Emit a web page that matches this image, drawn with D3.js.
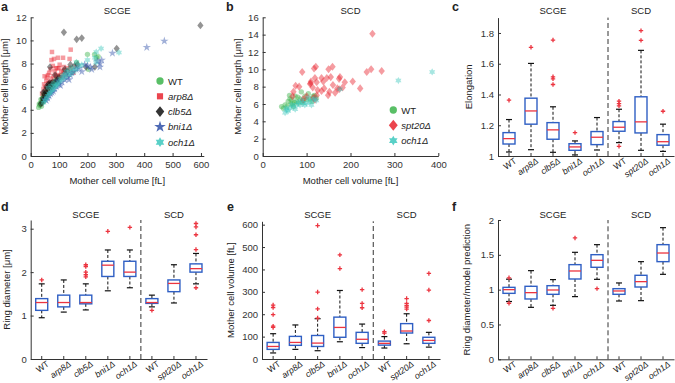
<!DOCTYPE html>
<html lang="en">
<head>
<meta charset="utf-8">
<title>Cell shape panels</title>
<script src="https://d3js.org/d3.v7.min.js"></script>
<style>
  body { margin: 0; background: #fff; font-family: Arial, "Liberation Sans", sans-serif; }
  svg text { fill: #222; font-family: Arial, "Liberation Sans", sans-serif; }
  .axis path, .axis line { stroke: #333; }
  .axis text { font-size: 9.5px; fill: #333; }
  .title { font-size: 9.5px; text-anchor: middle; }
  .letter { font-size: 12.5px; font-weight: bold; }
  .label { font-size: 9.5px; text-anchor: middle; }
  .legend { font-size: 9.5px; }
</style>
</head>
<body>
<svg id="fig" width="675" height="383"></svg>
<script>
// ---- panel a: SCGE, [volume fL, length um]
const wtA = [[28,4.2],[30,4.5],[32,4.4],[35,4.6],[36,4.9],[38,4.3],[40,4.8],[42,5.0],[44,5.3],[45,4.7],[48,5.2],[50,5.4],[52,5.0],[55,5.6],[58,5.3],[60,5.8],[62,5.5],[65,6.0],[68,5.7],[70,6.2],[75,6.0],[80,6.4],[85,6.2],[90,6.6],[95,6.4],[100,6.8],[110,7.0],[120,7.2],[140,7.6],[162,8.1],[200,8.8],[203,7.5],[225,8.8],[232,8.5],[238,8.6]];
const arp8A = [[75,9.0],[73,8.3],[82,8.4],[96,8.5],[114,8.5],[141,9.2],[137,8.4],[102,7.9],[117,7.7],[94,7.6],[61,7.0],[49,6.9],[47,6.2],[85,7.3],[108,7.3],[126,7.0],[55,6.5],[73,6.7],[65,7.2],[90,7.0],[100,7.6],[120,7.4],[130,7.6],[150,7.2],[57,6.8],[68,6.4],[80,6.9],[45,5.8],[52,6.0],[62,6.3],[140,7.6],[110,6.8],[95,6.9],[105,7.0],[88,7.6],[78,7.8],[60,5.7],[40,5.4],[70,7.5],[115,7.3]];
const clb5A = [[117,10.7],[162,10.1],[180,10.2],[195,7.7],[226,7.7],[303,9.3],[598,11.3],[68,7.7],[165,7.9],[140,7.9],[155,7.8],[40,4.6],[42,5.0],[45,4.9],[48,5.3],[50,5.6],[52,5.1],[55,5.5],[58,5.9],[60,5.4],[62,6.2],[65,5.8],[68,6.1],[70,5.9],[72,6.3],[75,6.0],[78,6.4],[80,6.1],[85,6.3],[90,6.5],[95,6.6],[100,6.8],[35,4.5],[44,5.5],[56,6.0],[66,6.3],[130,7.3],[86,7.0],[120,7.5]];
const bni1A = [[409,9.4],[471,9.95],[288,8.9],[244,7.7],[215,7.5],[160,7.5],[244,8.0],[235,8.2],[250,8.3],[200,7.8],[180,7.3],[150,7.3],[140,7.0],[130,6.8],[120,6.6],[110,6.4],[100,6.2],[90,6.0],[85,5.8],[80,5.6],[75,5.5],[70,5.4],[65,5.2],[60,5.0],[55,4.8],[50,4.9],[95,6.5],[105,6.1],[115,6.9],[125,7.1],[135,6.6],[145,7.2],[170,7.6],[190,7.9],[210,7.7]];
const och1A = [[311,8.95],[248,9.3],[231,9.0],[161,8.1],[230,8.1],[226,8.5],[180,7.9],[160,7.5],[150,7.3],[140,7.1],[130,7.0],[120,6.8],[110,6.6],[100,6.4],[95,6.2],[90,6.1],[85,6.0],[80,5.8],[75,5.7],[70,5.5],[65,5.4],[60,5.2],[55,5.0],[50,4.8],[45,4.6],[105,6.7],[115,7.0],[125,7.3],[135,7.5],[145,7.6],[170,7.8],[200,8.3],[62,5.9],[72,6.1],[82,6.3]];

// ---- panel b: SCD
const wtB = [[43,5.7],[47,5.5],[51,5.9],[55,5.7],[58,6.3],[61,7.0],[64,6.0],[66,6.5],[70,5.7],[72,6.2],[74,6.9],[77,6.3],[81,6.1],[85,6.6],[88,7.4],[90,6.2],[92,6.4],[96,6.9],[100,6.5],[104,7.2],[108,6.6],[112,6.3],[115,6.9],[118,7.0],[122,6.7],[62,6.6],[68,6.0],[80,6.8]];
const spt20B = [[250,14.1],[237,9.7],[247,10.0],[271,9.8],[90,9.7],[117,10.1],[121,10.3],[150,10.0],[159,10.3],[176,9.1],[75,8.1],[83,8.0],[109,8.4],[119,9.0],[134,9.0],[146,9.0],[155,9.1],[123,8.5],[138,8.6],[174,8.9],[187,8.5],[205,8.6],[222,7.8],[108,8.3],[114,7.9],[134,7.5],[152,7.4],[149,7.0],[123,7.0],[115,6.7],[68,6.9],[70,7.4],[92,6.5],[100,6.9],[119,6.5],[170,7.8],[182,7.9],[174,7.7],[110,8.6],[125,7.6],[140,7.8],[160,8.2],[165,7.3]];
const och1B = [[386,9.7],[309,8.7],[176,7.7],[51,5.0],[53,5.5],[62,5.5],[70,5.7],[77,5.9],[85,5.9],[92,6.1],[100,6.1],[108,6.3],[115,6.5],[119,6.6],[74,5.4],[66,5.9],[89,6.4],[96,5.9],[58,5.2],[111,5.9],[81,6.2],[55,5.3],[104,6.7],[122,6.4]];

// ---- box plots: [lower whisker, q1, median, q3, upper whisker]
const boxCategories = ["WT", "arp8Δ", "clb5Δ", "bni1Δ", "och1Δ", "WT", "spt20Δ", "och1Δ"];
const elongationBoxes = [[1.026,1.078,1.113,1.152,1.237],[1.041,1.207,1.293,1.376,1.602],[1.024,1.109,1.17,1.217,1.32],[1.007,1.037,1.059,1.08,1.098],[1.039,1.074,1.122,1.159,1.25],[1.087,1.161,1.187,1.224,1.304],[1.037,1.15,1.222,1.385,1.687],[1.03,1.07,1.093,1.139,1.207]];
const elongationOutliers = [[1.363],[1.707],[1.754,1.515,1.502,1.465],[1.152],[],[1.357,1.341,1.326,1.063],[1.815,1.752],[1.291]];
const ringBoxes = [[0.95,1.12,1.30,1.39,1.73],[1.08,1.20,1.30,1.47,1.82],[1.13,1.27,1.30,1.47,1.73],[1.57,1.90,2.16,2.25,2.51],[1.64,1.90,2.0,2.25,2.51],[1.20,1.28,1.30,1.39,1.47],[1.29,1.55,1.74,1.82,2.17],[1.73,2.0,2.08,2.19,2.43]];
const ringOutliers = [[1.82],[],[2.17,2.13,2.0,1.94,1.89],[2.94],[3.03],[1.12],[],[3.12,3.04,2.86,2.52,1.64]];
const volumeBoxes = [[27,43,56,74,113],[43,61,74,101,152],[37,56,71,105,180],[77,97,141,187,306],[51,70,88,119,156],[49,62,70,80,100],[68,116,125,158,202],[53,70,83,97,119]];
const volumeOutliers = [[241,230,198,147,141],[],[596,299,224,183],[465,404],[310,248,229],[122,116],[270,248,239,232,223],[382,308,172]];
const ratioBoxes = [[0.83,0.947,1.0,1.033,1.15],[0.746,0.866,0.957,1.048,1.273],[0.775,0.933,0.995,1.057,1.144],[0.9,1.153,1.268,1.359,1.536],[1.148,1.321,1.421,1.502,1.646],[0.837,0.933,0.981,1.014,1.096],[0.842,1.038,1.115,1.206,1.402],[1.22,1.402,1.526,1.646,1.89]];
const ratioOutliers = [[1.17,0.805],[],[0.732],[1.742],[1.014],[],[],[]];

const colors = { wt: "#3cb44b", arp8: "#e8242f", clb5: "#111111", bni1: "#2f50a8", och1: "#3cc8bd", spt20: "#e8242f" };
const boxBlue = "#2f5fc4", medRed = "#ec3540";

const svg = d3.select("#fig");

const symbolHexagram = {
  draw(ctx, size) {
    const R = Math.sqrt(size / 1.732), r = R / Math.sqrt(3);
    for (let i = 0; i < 12; i++) {
      const a = i * Math.PI / 6 - Math.PI / 2, rr = i % 2 === 0 ? R : r;
      if (i === 0) ctx.moveTo(rr * Math.cos(a), rr * Math.sin(a));
      else ctx.lineTo(rr * Math.cos(a), rr * Math.sin(a));
    }
    ctx.closePath();
  }
};
// matlab-like diamond: square turned 45 degrees, a bit taller than wide
const symbolRhomb = {
  draw(ctx, size) {
    const h = Math.sqrt(size / 1.6);
    const w = h * 0.8;
    ctx.moveTo(0, -h); ctx.lineTo(w, 0); ctx.lineTo(0, h); ctx.lineTo(-w, 0); ctx.closePath();
  }
};

function italicName(sel, name) {
  sel.style("font-style", name === "WT" ? "normal" : "italic").text(name);
}

function scatterPanel(o) {
  const x = d3.scaleLinear().domain(o.xDomain).range([o.x0, o.x1]);
  const y = d3.scaleLinear().domain(o.yDomain).range([o.y0, o.y1]);
  const g = svg.append("g");

  o.series.forEach(s => {
    g.append("g").selectAll("path")
      .data(s.data)
      .enter().append("path")
      .attr("transform", d => `translate(${x(d[0])},${y(d[1])})`)
      .attr("d", d3.symbol().type(s.symbol).size(s.size))
      .attr("fill", s.color)
      .attr("fill-opacity", 0.45);
  });

  g.append("g").attr("class", "axis").attr("transform", `translate(0,${o.y0})`)
    .call(d3.axisBottom(x).tickValues(o.xTicks).tickSizeInner(-3).tickSizeOuter(0).tickPadding(5));
  g.append("g").attr("class", "axis").attr("transform", `translate(${o.x0},0)`)
    .call(d3.axisLeft(y).tickValues(o.yTicks).tickSizeInner(-3).tickSizeOuter(0).tickPadding(4));

  g.append("text").attr("class", "title").attr("x", (o.x0 + o.x1) / 2).attr("y", 14).text(o.title);
  g.append("text").attr("class", "label").attr("x", (o.x0 + o.x1) / 2).attr("y", 183.5).text("Mother cell volume [fL]");
  g.append("text").attr("class", "label")
    .attr("transform", `translate(${o.ylabelX},${(o.y0 + o.y1) / 2}) rotate(-90)`)
    .text("Mother cell length [μm]");

  const lg = g.append("g");
  o.series.forEach((s, i) => {
    const ly = o.legendY + i * 15.3;
    lg.append("path")
      .attr("transform", `translate(${o.legendX},${ly})`)
      .attr("d", d3.symbol().type(s.symbol).size(s.size * 1.9))
      .attr("fill", s.color).attr("fill-opacity", 0.85);
    lg.append("text").attr("class", "legend")
      .attr("x", o.legendX + 8).attr("y", ly + 3.5)
      .call(italicName, s.name);
  });
}

function boxPanel(o) {
  const x = d3.scaleBand().domain(d3.range(boxCategories.length)).range([o.x0, o.x1]);
  const y = d3.scaleLinear().domain(o.domain).range([o.y0, o.y1]);
  const cxOf = i => x(i) + x.bandwidth() / 2;
  const g = svg.append("g");
  const bw = 12, cap = 6;

  g.append("line")
    .attr("x1", x(5)).attr("x2", x(5))
    .attr("y1", o.y0).attr("y2", o.y1)
    .attr("stroke", "#333").attr("stroke-width", 1)
    .attr("stroke-dasharray", "5,3");

  o.boxes.forEach((b, i) => {
    const cx = cxOf(i);
    const [lo, q1, med, q3, hi] = b;
    const bg = g.append("g");
    bg.append("line").attr("x1", cx).attr("x2", cx).attr("y1", y(hi)).attr("y2", y(q3))
      .attr("stroke", "#111").attr("stroke-dasharray", "3,2");
    bg.append("line").attr("x1", cx).attr("x2", cx).attr("y1", y(q1)).attr("y2", y(lo))
      .attr("stroke", "#111").attr("stroke-dasharray", "3,2");
    [lo, hi].forEach(v => {
      bg.append("line").attr("x1", cx - cap / 2).attr("x2", cx + cap / 2)
        .attr("y1", y(v)).attr("y2", y(v)).attr("stroke", "#111").attr("stroke-width", 1.2);
    });
    bg.append("rect")
      .attr("x", cx - bw / 2).attr("width", bw)
      .attr("y", y(q3)).attr("height", y(q1) - y(q3))
      .attr("fill", "#fff").attr("stroke", boxBlue).attr("stroke-width", 1.4);
    bg.append("line").attr("x1", cx - bw / 2).attr("x2", cx + bw / 2)
      .attr("y1", y(med)).attr("y2", y(med)).attr("stroke", medRed).attr("stroke-width", 1.3);
    bg.selectAll(".out").data(o.outliers[i]).enter().append("path")
      .attr("transform", d => `translate(${cx},${y(d)})`)
      .attr("d", "M-2.2,0H2.2M0,-2.2V2.2")
      .attr("stroke", medRed).attr("stroke-width", 1.3);
  });

  g.append("g").attr("class", "axis").attr("transform", `translate(0,${o.y0})`)
    .call(d3.axisBottom(x).tickSizeInner(-3).tickSizeOuter(0).tickFormat(""));
  g.append("g").attr("class", "axis").attr("transform", `translate(${o.x0},0)`)
    .call(d3.axisLeft(y).tickValues(o.yTicks).tickFormat(d3.format("~g"))
      .tickSizeInner(-3).tickSizeOuter(0).tickPadding(4));

  g.selectAll(".cat").data(boxCategories).enter().append("text")
    .attr("class", "axis-cat")
    .attr("transform", (d, i) => `translate(${cxOf(i) + 5},${o.y0 + 2}) rotate(-35)`)
    .attr("text-anchor", "end").attr("dy", "0.6em")
    .style("font-size", "8.7px")
    .each(function (d) { d3.select(this).call(italicName, d); });

  g.append("text").attr("class", "title").attr("x", cxOf(2)).attr("y", o.titleY).text("SCGE");
  g.append("text").attr("class", "title").attr("x", cxOf(6)).attr("y", o.titleY).text("SCD");
  g.append("text").attr("class", "label")
    .attr("transform", `translate(${o.ylabelX},${(o.y0 + o.y1) / 2}) rotate(-90)`)
    .text(o.ylabel);
}

scatterPanel({
  title: "SCGE", x0: 30.7, x1: 203.8, y0: 156, y1: 17.3,
  xDomain: [0, 610], yDomain: [0, 12],
  xTicks: [0, 100, 200, 300, 400, 500, 600], yTicks: [0, 2, 4, 6, 8, 10, 12],
  ylabelX: 8, legendX: 160, legendY: 81,
  series: [
    { name: "WT", data: wtA, color: colors.wt, symbol: d3.symbolCircle, size: 22 },
    { name: "arp8Δ", data: arp8A, color: colors.arp8, symbol: d3.symbolSquare, size: 20 },
    { name: "clb5Δ", data: clb5A, color: colors.clb5, symbol: symbolRhomb, size: 24 },
    { name: "bni1Δ", data: bni1A, color: colors.bni1, symbol: d3.symbolStar, size: 22 },
    { name: "och1Δ", data: och1A, color: colors.och1, symbol: symbolHexagram, size: 22 }
  ]
});

scatterPanel({
  title: "SCD", x0: 262.7, x1: 438.3, y0: 156, y1: 17.3,
  xDomain: [0, 400], yDomain: [0, 16],
  xTicks: [0, 100, 200, 300, 400], yTicks: [0, 2, 4, 6, 8, 10, 12, 14, 16],
  ylabelX: 241, legendX: 393.3, legendY: 110,
  series: [
    { name: "WT", data: wtB, color: colors.wt, symbol: d3.symbolCircle, size: 22 },
    { name: "spt20Δ", data: spt20B, color: colors.spt20, symbol: symbolRhomb, size: 26 },
    { name: "och1Δ", data: och1B, color: colors.och1, symbol: symbolHexagram, size: 22 }
  ]
});

boxPanel({ x0: 498, x1: 674, y0: 156, y1: 17.6, domain: [1, 1.9],
  yTicks: [1, 1.2, 1.4, 1.6, 1.8], boxes: elongationBoxes, outliers: elongationOutliers,
  titleY: 14, ylabelX: 471.5, ylabel: "Elongation" });
boxPanel({ x0: 30.7, x1: 207, y0: 359, y1: 220, domain: [0, 3.2],
  yTicks: [0, 1, 2, 3], boxes: ringBoxes, outliers: ringOutliers,
  titleY: 217.5, ylabelX: 10, ylabel: "Ring diameter [μm]" });
boxPanel({ x0: 262, x1: 440, y0: 359, y1: 221.3, domain: [0, 615],
  yTicks: [0, 100, 200, 300, 400, 500, 600], boxes: volumeBoxes, outliers: volumeOutliers,
  titleY: 217.5, ylabelX: 233.5, ylabel: "Mother cell volume [fL]" });
boxPanel({ x0: 498, x1: 674, y0: 359.3, y1: 220, domain: [0, 2],
  yTicks: [0, 0.5, 1, 1.5, 2], boxes: ratioBoxes, outliers: ratioOutliers,
  titleY: 217.5, ylabelX: 469.5, ylabel: "Ring diameter/model prediction" });

// panel letters
[["a", 1, 11], ["b", 226, 11], ["c", 452, 11], ["d", 1, 211], ["e", 227, 211], ["f", 452, 211]]
  .forEach(([t, lx, ly]) => svg.append("text").attr("class", "letter").attr("x", lx).attr("y", ly).text(t));
</script>
</body>
</html>
